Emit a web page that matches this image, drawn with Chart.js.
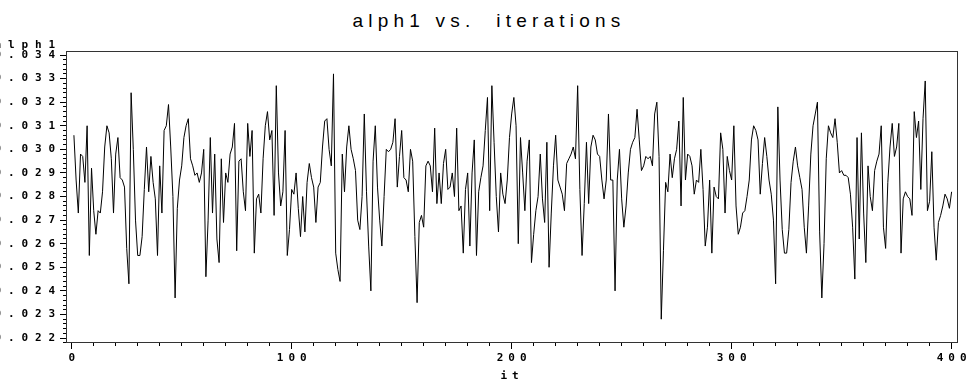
<!DOCTYPE html>
<html>
<head>
<meta charset="utf-8">
<script src="https://cdn.jsdelivr.net/npm/chart.js@4.4.0/dist/chart.umd.min.js"></script>
<style>
    html, body { margin: 0; padding: 0; background: #fff; }
    #wrap { position: relative; width: 968px; height: 385px; overflow: hidden; }
    #title {
        position: absolute; left: 5px; top: 10px; width: 968px;
        text-align: center; line-height: 22px;
        font: 19px "Liberation Sans", Arial, sans-serif;
        letter-spacing: 5.2px; color: #000; white-space: pre;
    }
    #chart { position: absolute; left: 0; top: 0; }
</style>
</head>
<body>
<div id="wrap">
    <div id="title">alph1 vs.  iterations</div>
    <canvas id="chart" width="968" height="385"></canvas>
</div>
<script>
// Данные трассы
const yName = 'alph1';
const xName = 'it';
const firstIteration = 1;
const xTickLabels = [0, 100, 200, 300, 400];
const yTickValues = [0.022, 0.023, 0.024, 0.025, 0.026, 0.027, 0.028,
                     0.029, 0.030, 0.031, 0.032, 0.033, 0.034];
const yMinorStep = 0.0002;
const xMinorStep = 10;

const alph1 = [
    0.0306, 0.0287, 0.0273, 0.0298, 0.0297, 0.0286, 0.0310, 0.0255, 0.0292, 0.0274,
    0.0264, 0.0274, 0.0273, 0.0282, 0.0301, 0.0310, 0.0307, 0.0296, 0.0273, 0.0298,
    0.0305, 0.0288, 0.0287, 0.0284, 0.0258, 0.0243, 0.0324, 0.0300, 0.0270, 0.0255,
    0.0255, 0.0263, 0.0283, 0.0301, 0.0282, 0.0297, 0.0286, 0.0279, 0.0255, 0.0293,
    0.0273, 0.0308, 0.0310, 0.0319, 0.0301, 0.0280, 0.0237, 0.0275, 0.0287, 0.0293,
    0.0305, 0.0310, 0.0313, 0.0296, 0.0293, 0.0289, 0.0290, 0.0286, 0.0290, 0.0300,
    0.0246, 0.0270, 0.0305, 0.0273, 0.0298, 0.0262, 0.0252, 0.0296, 0.0269, 0.0290,
    0.0286, 0.0298, 0.0301, 0.0311, 0.0257, 0.0295, 0.0296, 0.0282, 0.0274, 0.0311,
    0.0297, 0.0308, 0.0256, 0.0279, 0.0281, 0.0273, 0.0296, 0.0310, 0.0316, 0.0304,
    0.0308, 0.0272, 0.0327, 0.0290, 0.0276, 0.0282, 0.0308, 0.0255, 0.0266, 0.0283,
    0.0281, 0.0290, 0.0275, 0.0263, 0.0280, 0.0265, 0.0286, 0.0294, 0.0288, 0.0284,
    0.0269, 0.0284, 0.0286, 0.0301, 0.0312, 0.0313, 0.0300, 0.0293, 0.0332, 0.0256,
    0.0249, 0.0244, 0.0298, 0.0282, 0.0301, 0.0310, 0.0300, 0.0296, 0.0291, 0.0270,
    0.0266, 0.0280, 0.0315, 0.0282, 0.0259, 0.0240, 0.0295, 0.0310, 0.0284, 0.0270,
    0.0259, 0.0280, 0.0300, 0.0299, 0.0300, 0.0303, 0.0313, 0.0284, 0.0297, 0.0308,
    0.0288, 0.0287, 0.0282, 0.0300, 0.0295, 0.0263, 0.0235, 0.0269, 0.0272, 0.0267,
    0.0293, 0.0295, 0.0293, 0.0282, 0.0309, 0.0277, 0.0290, 0.0277, 0.0294, 0.0300,
    0.0283, 0.0284, 0.0290, 0.0280, 0.0309, 0.0274, 0.0276, 0.0256, 0.0283, 0.0290,
    0.0259, 0.0290, 0.0304, 0.0255, 0.0282, 0.0288, 0.0293, 0.0308, 0.0322, 0.0274,
    0.0327, 0.0303, 0.0280, 0.0265, 0.0290, 0.0281, 0.0277, 0.0287, 0.0305, 0.0315,
    0.0322, 0.0310, 0.0260, 0.0305, 0.0290, 0.0274, 0.0295, 0.0304, 0.0252, 0.0264,
    0.0274, 0.0280, 0.0298, 0.0279, 0.0269, 0.0303, 0.0250, 0.0273, 0.0293, 0.0306,
    0.0287, 0.0284, 0.0281, 0.0274, 0.0294, 0.0296, 0.0298, 0.0301, 0.0296, 0.0327,
    0.0283, 0.0255, 0.0277, 0.0303, 0.0277, 0.0301, 0.0306, 0.0304, 0.0298, 0.0297,
    0.0287, 0.0279, 0.0287, 0.0315, 0.0287, 0.0287, 0.0240, 0.0287, 0.0300, 0.0279,
    0.0267, 0.0276, 0.0290, 0.0300, 0.0303, 0.0305, 0.0317, 0.0304, 0.0291, 0.0293,
    0.0297, 0.0296, 0.0297, 0.0293, 0.0315, 0.0320, 0.0297, 0.0228, 0.0257, 0.0286,
    0.0282, 0.0298, 0.0288, 0.0296, 0.0300, 0.0312, 0.0276, 0.0322, 0.0287, 0.0298,
    0.0297, 0.0293, 0.0281, 0.0287, 0.0286, 0.0300, 0.0283, 0.0259, 0.0267, 0.0287,
    0.0256, 0.0284, 0.0280, 0.0279, 0.0307, 0.0300, 0.0273, 0.0297, 0.0291, 0.0287,
    0.0310, 0.0276, 0.0264, 0.0267, 0.0273, 0.0274, 0.0280, 0.0287, 0.0304, 0.0310,
    0.0308, 0.0304, 0.0281, 0.0294, 0.0305, 0.0297, 0.0287, 0.0281, 0.0270, 0.0243,
    0.0318, 0.0287, 0.0266, 0.0256, 0.0256, 0.0266, 0.0286, 0.0295, 0.0301, 0.0293,
    0.0288, 0.0283, 0.0267, 0.0256, 0.0276, 0.0298, 0.0310, 0.0315, 0.0320, 0.0265,
    0.0237, 0.0260, 0.0296, 0.0310, 0.0307, 0.0305, 0.0313, 0.0303, 0.0290, 0.0291,
    0.0289, 0.0289, 0.0288, 0.0281, 0.0267, 0.0245, 0.0305, 0.0262, 0.0307, 0.0273,
    0.0252, 0.0293, 0.0280, 0.0274, 0.0291, 0.0295, 0.0298, 0.0310, 0.0267, 0.0258,
    0.0286, 0.0301, 0.0311, 0.0297, 0.0301, 0.0311, 0.0256, 0.0279, 0.0282, 0.0280,
    0.0279, 0.0272, 0.0316, 0.0305, 0.0312, 0.0283, 0.0313, 0.0329, 0.0274, 0.0278,
    0.0299, 0.0267, 0.0253, 0.0269, 0.0272, 0.0276, 0.0281, 0.0279, 0.0275, 0.0282
];

// Пределы осей (как в исходной картинке SAS)
const xMin = -2.6, xMax = 402.9;
const yMin = 0.02179, yMax = 0.03417;

const labelFont = { family: 'DejaVu Sans Mono', size: 11, weight: 'bold' };
const yGap = 6.9;   // разрядка подписей оси Y
const xGap = 5;     // разрядка подписей оси X

// Рамка, разрядка текста и подпись переменной сверху слева
const sasFrame = {
    id: 'sasFrame',
    beforeDraw(chart) {
        chart.ctx.letterSpacing = yGap + 'px';
    },
    beforeDatasetsDraw(chart) {
        // ось X (z = 1) рисуется после линии, уже с другой разрядкой
        chart.ctx.letterSpacing = xGap + 'px';
    },
    afterDraw(chart) {
        const { ctx, chartArea: a } = chart;
        ctx.save();
        ctx.letterSpacing = '0px';
        ctx.strokeStyle = '#333';
        ctx.lineWidth = 1;
        ctx.strokeRect(a.left + 0.5, a.top + 0.5, a.right - a.left - 1, a.bottom - a.top - 1);
        ctx.letterSpacing = yGap + 'px';
        ctx.fillStyle = '#000';
        ctx.font = 'bold 11px "DejaVu Sans Mono"';
        ctx.textAlign = 'right';
        ctx.textBaseline = 'middle';
        ctx.fillText(yName, 62, 45);
        ctx.restore();
    }
};

function fixHeight(h) {
    return function(scale) {
        scale.height = h;
        scale.paddingLeft = scale.paddingRight = 0;
        scale.paddingTop = scale.paddingBottom = 0;
    };
}
function fixWidth(w) {
    return function(scale) {
        scale.width = w;
        scale.paddingLeft = scale.paddingRight = 0;
        scale.paddingTop = scale.paddingBottom = 0;
    };
}
function useTicks(values) {
    return function(scale) {
        scale.ticks = values.map(v => ({ value: v }));
    };
}

document.addEventListener('DOMContentLoaded', function() {
    const ctx = document.getElementById('chart').getContext('2d');
    const points = alph1.map((v, i) => ({ x: firstIteration + i, y: v }));

    new Chart(ctx, {
        type: 'line',
        data: {
            datasets: [{
                label: yName,
                data: points,
                xAxisID: 'x',
                yAxisID: 'y',
                borderColor: '#000',
                borderWidth: 1,
                borderJoinStyle: 'bevel',
                pointRadius: 0,
                tension: 0,
                fill: false
            }]
        },
        options: {
            responsive: false,
            animation: false,
            events: [],
            layout: { padding: { top: 51, right: 10, bottom: 0, left: 0 }, autoPadding: false },
            plugins: { legend: { display: false }, tooltip: { enabled: false }, title: { display: false } },
            scales: {
                x: {
                    type: 'linear', position: 'bottom', weight: 1,
                    min: xMin, max: xMax,
                    border: { display: false },
                    grid: { drawOnChartArea: false, tickLength: 6, tickColor: '#000', z: 1 },
                    afterBuildTicks: useTicks(xTickLabels),
                    ticks: {
                        z: 1, autoSkip: false, maxRotation: 0, padding: 3,
                        labelOffset: xGap / 2, color: '#000', font: labelFont,
                        callback: v => String(v)
                    },
                    title: { display: true, text: xName, color: '#000', font: labelFont, padding: { top: 0, bottom: 2 } },
                    afterFit: fixHeight(42)
                },
                xMinor: {
                    type: 'linear', position: 'bottom', weight: 0,
                    min: xMin, max: xMax,
                    border: { display: false },
                    grid: { drawOnChartArea: false, tickLength: 3, tickColor: '#000' },
                    ticks: { stepSize: xMinorStep, includeBounds: false, autoSkip: false, display: false },
                    afterFit: fixHeight(0)
                },
                y: {
                    type: 'linear', position: 'left', weight: 1,
                    min: yMin, max: yMax,
                    border: { display: false },
                    grid: { drawOnChartArea: false, tickLength: 6, tickColor: '#000' },
                    afterBuildTicks: useTicks(yTickValues),
                    ticks: {
                        autoSkip: false, padding: -2, color: '#000', font: labelFont,
                        callback: v => v.toFixed(3)
                    },
                    afterFit: fixWidth(66)
                },
                yMinor: {
                    type: 'linear', position: 'left', weight: 0,
                    min: yMin, max: yMax,
                    border: { display: false },
                    grid: { drawOnChartArea: false, tickLength: 3, tickColor: '#000' },
                    ticks: { stepSize: yMinorStep, includeBounds: false, autoSkip: false, display: false },
                    afterFit: fixWidth(0)
                }
            }
        },
        plugins: [sasFrame]
    });
});
</script>
</body>
</html>
